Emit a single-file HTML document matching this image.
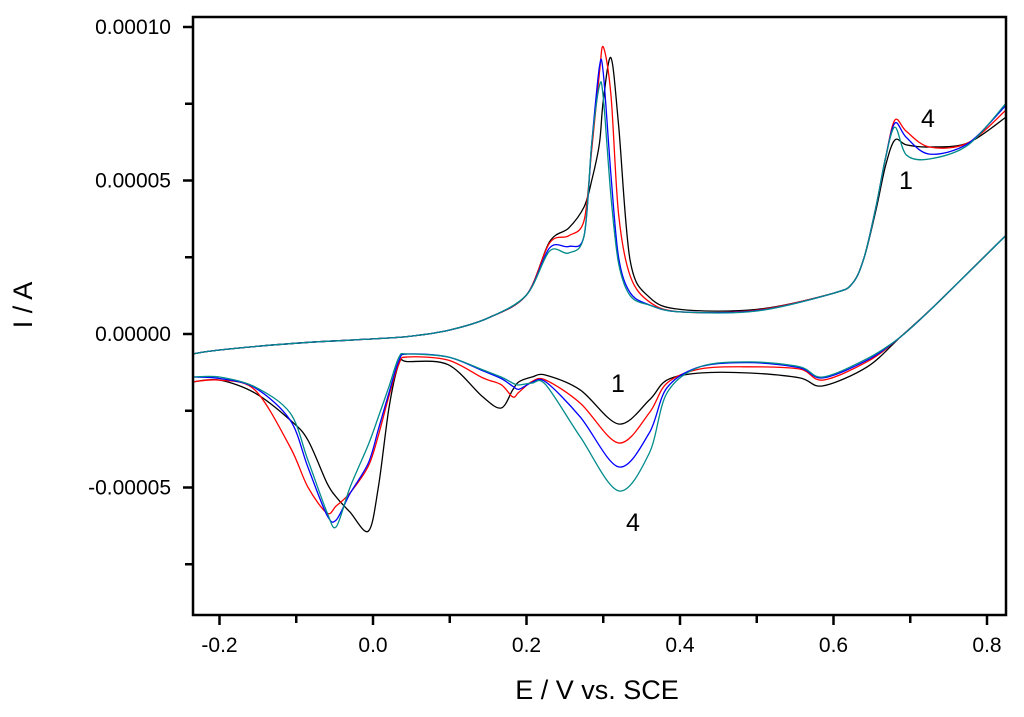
<!DOCTYPE html>
<html><head><meta charset="utf-8"><style>
html,body{margin:0;padding:0;background:#fff;}
svg{display:block;font-family:"Liberation Sans",Arial,sans-serif;}
</style></head><body>
<svg id="chart" width="1024" height="717" viewBox="0 0 1024 717">
<g id="plot"></g>
<g id="axes"></g>
<text x="32" y="305" font-size="27" text-anchor="middle" transform="rotate(-90 32 305)">I / A</text>
<text x="597" y="699" font-size="27" text-anchor="middle">E / V vs. SCE</text>
<text x="928" y="127" font-size="25" text-anchor="middle">4</text>
<text x="906" y="189" font-size="25" text-anchor="middle">1</text>
<text x="618" y="392" font-size="25" text-anchor="middle">1</text>
<text x="633" y="531" font-size="25" text-anchor="middle">4</text>
</svg>
<script>
// Data (current in units of 1e-5 A)
const xTicks = [-0.2, 0.0, 0.2, 0.4, 0.6, 0.8];
const xTickLabels = ["-0.2", "0.0", "0.2", "0.4", "0.6", "0.8"];
const yTicks = [0.0001, 0.00005, 0, -0.00005];
const yTickLabels = ["0.00010", "0.00005", "0.00000", "-0.00005"];

const fwdE = [-0.235,-0.2,-0.1,0,0.05,0.1,0.15,0.2,0.23,0.255,0.275,0.285,0.295,0.3,0.31,0.32,0.335,0.36,0.4,0.5,0.6,0.625,0.64,0.655,0.668,0.68,0.695,0.725,0.775,0.825];
const fwdBlack = [-0.65,-0.52,-0.3,-0.16,-0.07,0.13,0.52,1.27,3.0,3.45,4.14,5.0,6.2,7.6,9.0,6.8,2.4,1.2,0.8,0.8,1.33,1.66,2.5,4.0,5.5,6.32,6.16,6.09,6.22,7.07];
const fwdRed   = [-0.65,-0.52,-0.3,-0.16,-0.07,0.13,0.52,1.27,2.96,3.2,3.7,6.0,8.5,9.35,7.8,3.9,1.9,1.05,0.72,0.78,1.33,1.66,2.5,4.1,5.76,6.97,6.6,6.09,6.22,7.3];
const fwdBlue  = [-0.65,-0.52,-0.3,-0.16,-0.07,0.13,0.52,1.27,2.8,2.85,3.2,6.2,8.7,8.5,5.2,2.5,1.35,0.95,0.72,0.76,1.33,1.66,2.5,4.1,5.76,6.87,6.4,5.86,6.2,7.46];
const fwdTeal  = [-0.65,-0.52,-0.3,-0.16,-0.07,0.13,0.52,1.27,2.7,2.64,3.2,6.2,8.08,7.7,4.5,2.3,1.25,0.94,0.72,0.75,1.33,1.66,2.5,4.1,5.76,6.74,5.83,5.7,6.15,7.52];

const revE = [-0.235,-0.2,-0.154,-0.108,-0.085,-0.06,-0.048,-0.03,-0.006,0.007,0.021,0.034,0.045,0.098,0.143,0.167,0.182,0.19,0.207,0.225,0.27,0.32,0.36,0.383,0.426,0.491,0.556,0.586,0.644,0.687,0.73,0.825];
const revBlack = [-1.56,-1.5,-1.92,-2.8,-3.45,-4.85,-5.31,-5.8,-6.42,-4.98,-2.38,-0.95,-0.9,-1.0,-2.05,-2.41,-1.82,-1.56,-1.4,-1.34,-1.82,-2.93,-2.15,-1.5,-1.27,-1.27,-1.43,-1.69,-1.07,-0.1,0.88,3.22];
const revRed   = [-1.56,-1.5,-1.82,-3.68,-4.98,-5.83,-5.6,-5.18,-4.3,-3.3,-2.0,-0.95,-0.75,-0.85,-1.43,-1.65,-2.05,-1.9,-1.55,-1.5,-2.25,-3.55,-2.57,-1.6,-1.14,-1.07,-1.14,-1.5,-0.9,-0.1,0.88,3.22];
const revBlue  = [-1.4,-1.45,-1.75,-2.8,-4.33,-5.9,-6.06,-5.2,-4.2,-3.1,-1.9,-0.85,-0.65,-0.75,-1.2,-1.45,-1.7,-1.8,-1.58,-1.56,-2.7,-4.33,-3.22,-1.75,-1.07,-0.93,-1.1,-1.43,-0.85,-0.1,0.88,3.22];
const revTeal  = [-1.4,-1.4,-1.72,-2.57,-4.1,-5.8,-6.28,-5.0,-3.6,-2.7,-1.7,-0.75,-0.65,-0.75,-1.17,-1.4,-1.6,-1.66,-1.6,-1.65,-3.35,-5.11,-3.88,-1.92,-1.07,-0.91,-1.07,-1.4,-0.8,-0.1,0.88,3.22];

const seriesNames = ["scan-1","scan-2","scan-3","scan-4"];
const seriesColors = ["#000000","#ff0000","#0000ff","#008b8b"];
const fwdSeries = [fwdBlack, fwdRed, fwdBlue, fwdTeal];
const revSeries = [revBlack, revRed, revBlue, revTeal];

const X0 = 193, X1 = 1006, Y0 = 17, Y1 = 615;
function xs(v){ return 373 + v * 767.5; }
function ys(a){ return 334 - a / 0.00005 * 153.5; }
const NS = "http://www.w3.org/2000/svg";
const plot = document.getElementById('plot');
const axes = document.getElementById('axes');

function smoothPath(pts){
  let d = "M" + pts[0][0].toFixed(1) + "," + pts[0][1].toFixed(1);
  for (let i = 0; i < pts.length - 1; i++){
    const p0 = pts[Math.max(i-1,0)], p1 = pts[i], p2 = pts[i+1], p3 = pts[Math.min(i+2,pts.length-1)];
    const t = 0.16;
    const c1 = [p1[0] + (p2[0]-p0[0])*t, p1[1] + (p2[1]-p0[1])*t];
    const c2 = [p2[0] - (p3[0]-p1[0])*t, p2[1] - (p3[1]-p1[1])*t];
    d += "C" + c1[0].toFixed(1) + "," + c1[1].toFixed(1) + " " + c2[0].toFixed(1) + "," + c2[1].toFixed(1) + " " + p2[0].toFixed(1) + "," + p2[1].toFixed(1);
  }
  return d;
}

for (let s = 0; s < 4; s++){
  const f = fwdE.map((e,i) => [xs(e), ys(fwdSeries[s][i]*1e-5)]);
  const r = revE.map((e,i) => [xs(e), ys(revSeries[s][i]*1e-5)]);
  const p1 = document.createElementNS(NS,'path');
  p1.setAttribute('d', smoothPath(f));
  p1.setAttribute('fill','none');
  p1.setAttribute('stroke', seriesColors[s]);
  p1.setAttribute('stroke-width','1.3');
  
  
  plot.appendChild(p1);
  const p2 = document.createElementNS(NS,'path');
  p2.setAttribute('d', smoothPath(r));
  p2.setAttribute('fill','none');
  p2.setAttribute('stroke', seriesColors[s]);
  p2.setAttribute('stroke-width','1.3');
  
  
  plot.appendChild(p2);
}

const frame = document.createElementNS(NS,'rect');
frame.setAttribute('x', X0); frame.setAttribute('y', Y0);
frame.setAttribute('width', X1-X0); frame.setAttribute('height', Y1-Y0);
frame.setAttribute('fill','none'); frame.setAttribute('stroke','#000'); frame.setAttribute('stroke-width','2.5');


axes.appendChild(frame);

function line(x1,y1,x2,y2,name){
  const l = document.createElementNS(NS,'line');
  l.setAttribute('x1',x1); l.setAttribute('y1',y1); l.setAttribute('x2',x2); l.setAttribute('y2',y2);
  l.setAttribute('stroke','#000'); l.setAttribute('stroke-width','2.5');
  
  
  axes.appendChild(l);
}
function label(x,y,txt,anchor,name){
  const t = document.createElementNS(NS,'text');
  t.setAttribute('x',x); t.setAttribute('y',y); t.setAttribute('font-size','21');
  t.setAttribute('text-anchor',anchor);
  t.textContent = txt;
  
  
  axes.appendChild(t);
}
xTicks.forEach((v,i) => {
  line(xs(v), Y1, xs(v), Y1+10, 'x-tick');
  label(xs(v), Y1+37, xTickLabels[i], 'middle', 'x-tick-label');
  const m = v + 0.1;
  if (xs(m) < X1) line(xs(m), Y1, xs(m), Y1+8, 'x-minor-tick');
});
line(xs(-0.1), Y1, xs(-0.1), Y1+8, 'x-minor-tick');
yTicks.forEach((v,i) => {
  line(X0-10, ys(v), X0, ys(v), 'y-tick');
  label(X0-22, ys(v)+7, yTickLabels[i], 'end', 'y-tick-label');
  const m = v - 0.000025;
  if (ys(m) < Y1) line(X0-8, ys(m), X0, ys(m), 'y-minor-tick');
});
</script>
</body></html>
